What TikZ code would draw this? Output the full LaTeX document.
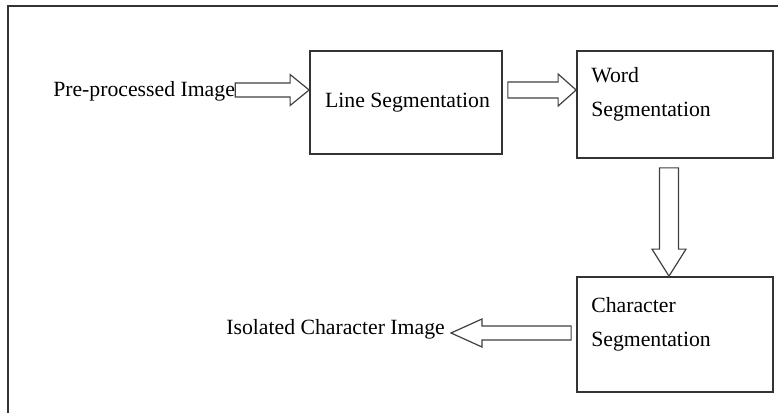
\documentclass[tikz,border=0pt]{standalone}
\usepackage{fontspec}
\setmainfont{Liberation Serif}
\usetikzlibrary{calc}
\begin{document}
\begin{tikzpicture}[x=0.75pt,y=-0.75pt,
  every node/.style={font=\fontsize{16.3}{25.5}\selectfont, text=black, inner sep=0pt},
  box/.style={draw=black!80, line width=1.3pt, fill=none},
  lbl/.style={align=left},
  blockarrow/.style n args={3}{draw=black!75, line width=0.9pt, fill=white, line join=miter,
    to path={($(\tikztostart)!#1!90:(\tikztotarget)$)
      -- ($(\tikztotarget)!#3!(\tikztostart)!#1!-90:(\tikztostart)$)
      -- ($(\tikztotarget)!#3!(\tikztostart)!#2!-90:(\tikztostart)$)
      -- (\tikztotarget)
      -- ($(\tikztotarget)!#3!(\tikztostart)!#2!90:(\tikztostart)$)
      -- ($(\tikztotarget)!#3!(\tikztostart)!#1!90:(\tikztostart)$)
      -- ($(\tikztostart)!#1!-90:(\tikztotarget)$) -- cycle}}]
\useasboundingbox (0,0) rectangle (778,413);
% frame
\draw[black!80, line width=1.3pt] (8,413) -- (8,6) -- (778,6);
% boxes
\node[box, minimum width=144pt, minimum height=77.25pt] (line) at (406,102.5) {};
\node[box, minimum width=147pt, minimum height=80.25pt] (word) at (675,104.5) {};
\node[box, minimum width=147pt, minimum height=86.25pt] (char) at (675,334.5) {};
% texts
\node[anchor=base] (linetxt) at (407.5,108) {Line Segmentation};
\node[lbl, anchor=north west] (wordtxt) at (591,67) {Word\\Segmentation};
\node[lbl, anchor=north west] (chartxt) at (591,297.5) {Character\\Segmentation};
\node[anchor=base west] (pre) at (53,97) {Pre-processed Image};
\node[anchor=base east] (iso) at (445,334.5) {Isolated Character Image};
% arrow end points
\coordinate (a1s) at (pre.east |- 0,90);
\coordinate (a1e) at (line.west |- 0,90);
\coordinate (a2s) at ($(line.east |- 0,90)+(5,0)$);
\coordinate (a2e) at (word.west |- 0,90);
\coordinate (a3s) at ($(word.south)+(-6,9)$);
\coordinate (a3e) at (char.north -| a3s);
\coordinate (a4s) at ($(char.west |- 0,333)+(-5,0)$);
\coordinate (a4e) at ($(iso.east |- 0,333)+(6,0)$);
% block arrows
\path[blockarrow={5.25pt}{11.6pt}{14.25pt}] (a1s) to (a1e);
\path[blockarrow={6pt}{12pt}{13.5pt}] (a2s) to (a2e);
\path[blockarrow={7.1pt}{12.75pt}{20.25pt}] (a3s) to (a3e);
\path[blockarrow={5.25pt}{10.5pt}{23.25pt}] (a4s) to (a4e);
\end{tikzpicture}
\end{document}
